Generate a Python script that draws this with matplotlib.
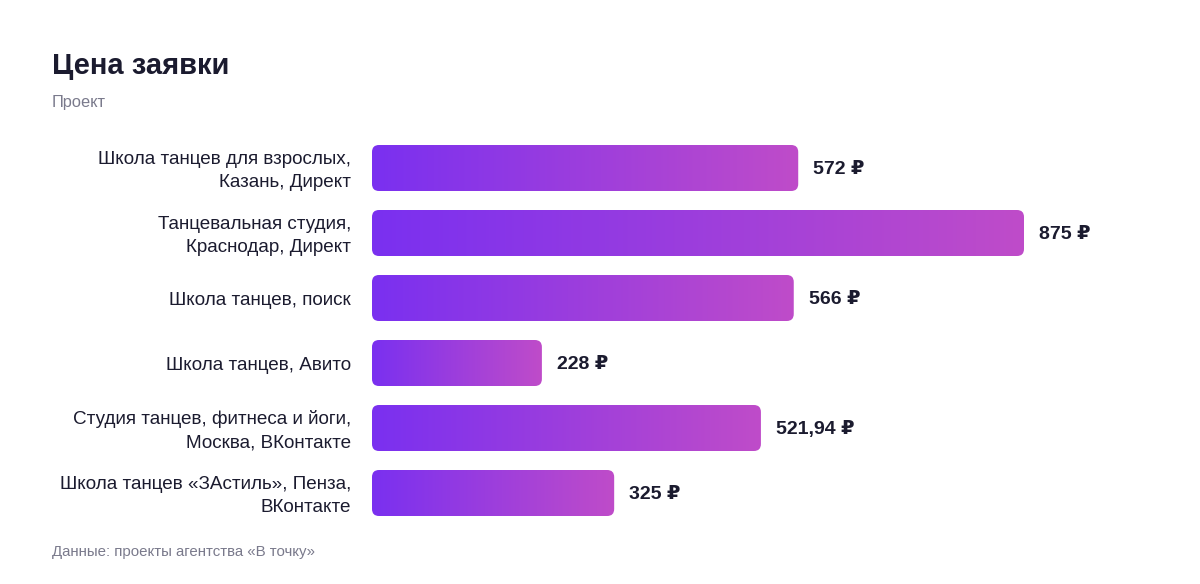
import matplotlib
matplotlib.use("Agg")
import matplotlib.pyplot as plt
import numpy as np
from matplotlib.patches import FancyBboxPatch
from matplotlib.colors import LinearSegmentedColormap

categories = [
    "Школа танцев для взрослых,\nКазань, Директ",
    "Танцевальная студия,\nКраснодар, Директ",
    "Школа танцев, поиск",
    "Школа танцев, Авито",
    "Студия танцев, фитнеса и йоги,\nМосква, ВКонтакте",
    "Школа танцев «ЗАстиль», Пенза,\nВКонтакте",
]
values = [572, 875, 566, 228, 521.94, 325]
value_labels = ["572 ₽", "875 ₽", "566 ₽", "228 ₽", "521,94 ₽", "325 ₽"]

FAM = ["Liberation Sans", "DejaVu Sans"]
DARK = "#1b1b2f"
GRAY = "#7a7a8c"

W, H = 1200, 584
fig = plt.figure(figsize=(W / 100, H / 100), dpi=100)
fig.patch.set_facecolor("white")

x0_px, x1_px = 372, 1149
top_px, bot_px = 135.5, 525.5
ax = fig.add_axes([x0_px / W, 1 - bot_px / H, (x1_px - x0_px) / W, (bot_px - top_px) / H])
px_per_unit = (1024 - 372) / 875.0
xmax = (x1_px - x0_px) / px_per_unit
ax.set_xlim(0, xmax)
n = len(values)
ax.set_ylim(n - 0.5, -0.5)
ax.axis("off")

cmap = LinearSegmentedColormap.from_list("g", ["#7a30f0", "#bf4cc9"])
grad = np.linspace(0, 1, 256).reshape(1, -1)

row_px = (bot_px - top_px) / n
bar_h = 46 / row_px
xu_per_px = 1 / px_per_unit
yu_per_px = 1 / row_px
r_px = 7
aspect = yu_per_px / xu_per_px

for i, v in enumerate(values):
    y0 = i - bar_h / 2
    patch = FancyBboxPatch((0, y0), v, bar_h,
                           boxstyle=f"round,pad=0,rounding_size={r_px * xu_per_px}",
                           mutation_aspect=aspect, facecolor="none", edgecolor="none")
    ax.add_patch(patch)
    im = ax.imshow(grad, cmap=cmap, extent=[0, v, y0 + bar_h, y0], aspect="auto",
                   interpolation="bicubic", zorder=2)
    im.set_clip_path(patch)
    ax.annotate(value_labels[i], xy=(v, i), xytext=(11, -1), textcoords="offset points",
                ha="left", va="center", fontsize=14, fontweight="bold", color=DARK,
                family=FAM)
    ax.annotate(categories[i], xy=(0, i), xytext=(-15, -2), textcoords="offset points",
                ha="right", va="center", fontsize=13.6, color=DARK, family=FAM,
                linespacing=1.45, multialignment="right")

ax.set_xlim(0, xmax)
ax.set_ylim(n - 0.5, -0.5)

fig.text(52 / W, 1 - 66 / H, "Цена заявки", fontsize=21, fontweight="bold",
         color=DARK, family=FAM, va="center", ha="left")
fig.text(52 / W, 1 - 102 / H, "Проект", fontsize=11.8, color=GRAY, family=FAM,
         va="center", ha="left")
fig.text(52 / W, 1 - 552 / H, "Данные: проекты агентства «В точку»", fontsize=10.8,
         color=GRAY, family=FAM, va="center", ha="left")

fig.savefig("out.png", dpi=100, facecolor="white")
